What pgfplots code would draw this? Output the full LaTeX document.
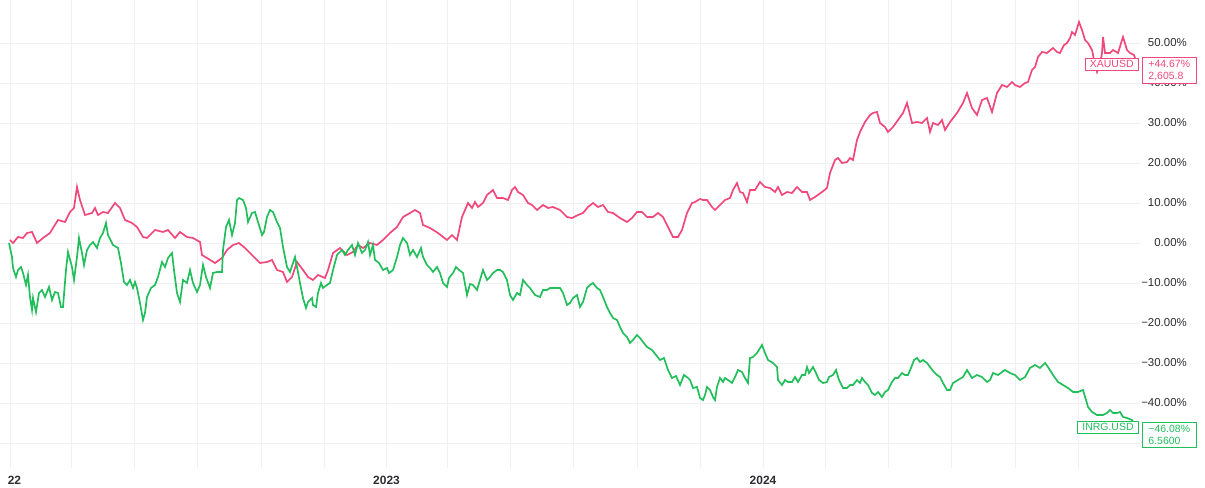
\documentclass[border=0pt]{standalone}
\usepackage{pgfplots}
\pgfplotsset{compat=1.18}
\usepackage{fontspec}
\setmainfont{Liberation Sans}
\definecolor{gold}{RGB}{240,72,122}
\definecolor{inrg}{RGB}{34,190,92}
\definecolor{gridc}{RGB}{240,240,242}
\definecolor{txt}{RGB}{45,45,50}
\begin{document}
\begin{tikzpicture}
\useasboundingbox (0,-20bp) rectangle (1205bp,468bp);
\begin{axis}[
  at={(0,0)}, anchor=south west,
  scale only axis, width=1140bp, height=468bp,
  xmin=0, xmax=1140, ymin=-56.25, ymax=60.75,
  axis line style={draw=none},
  major tick length=0pt,
  xtick={10,71,134,197,261,324,386.5,447,510,573,637,700,763,825,888,951,1015,1078},
  xticklabels={\hspace*{9bp}22,,,,,,2023,,,,,,2024,,,,,},
  xmajorgrids, ymajorgrids,
  grid style={gridc, line width=0.8bp},
  ytick={-50,-40,-30,-20,-10,0,10,20,30,40,50},
  yticklabels={−50.00\%,−40.00\%,−30.00\%,−20.00\%,−10.00\%,0.00\%,10.00\%,20.00\%,30.00\%,40.00\%,50.00\%},
  yticklabel pos=right,
  yticklabel style={anchor=east, inner sep=0pt, xshift=47bp, font=\fontsize{11.5}{13}\selectfont, text=txt},
  xticklabel style={anchor=north, inner sep=0pt, yshift=-8bp, font=\fontsize{12}{13}\selectfont\bfseries, text=txt},
]
\addplot[gold, line width=1.7bp] coordinates {
(10,0.75)(13,0)(18,1.5)(23,1.25)(27,2.5)(32,2.75)(37,0)(43,1.25)(50,2.5)(53,3.75)(58,5.75)(65,5.25)(70,7.75)(74,8.75)(77,14)(80,10.75)(85,7)(92,7.5)(95,8.75)(98,7)(103,7.75)(108,7.5)(115,10)(120,8.75)(125,5.75)(132,5)(137,4)(143,1.5)(147,1.25)(155,3.25)(163,2.75)(168,3.25)(175,1.25)(180,2.75)(187,1.5)(193,1.25)(200,0.25)(202,-3)(207,-3.75)(215,-5)(222,-3.75)(227,-1.75)(233,-0.5)(239,0)
(245,-1.25)(252,-3)(260,-5)(267,-4.75)(272,-4.25)(277,-6.75)(283,-7.25)(287,-9.75)(292,-8.5)(297,-4.75)(303,-6.75)(308,-8.5)(313,-9.25)(318,-8)(325,-8.75)(328,-6.75)(333,-2.5)(340,-1.25)(347,-3)(353,-2.25)(358,-0.5)(363,-1.25)(370,0)(377,-0.5)(383,0.75)(390,2.5)(397,4)(403,6.5)(410,7.5)(415,8.25)(420,7.5)(423,4.5)(430,3.75)(438,2.5)(447,0.75)(452,2)(457,0.75)(462,6.5)
(468,10)(472,8.75)(475,10.25)(478,9)(483,10)(487,12)(493,13.25)(497,11.25)(503,11.25)(508,10.75)(512,13.25)(515,14)(518,12.75)(523,12)(528,10)(532,9.5)(537,8.25)(543,9.5)(548,8.75)(553,9)(560,8.25)(567,6.5)(572,6.25)(578,7)(583,7.5)(588,9)(593,10)(598,9)(603,9.5)(608,7.75)(613,7.5)(620,6.25)(627,5.25)(632,6.25)(637,7.75)(642,7.75)(647,6.5)(653,6.5)(658,7.5)(663,6.5)(668,4)(673,1.5)(678,1.5)(682,3.25)(687,7.5)(692,10)(695,10.25)(700,11)
(703,10.75)(707,10.75)(712,9)(715,8.25)(720,9.5)(725,10.75)(730,11.25)(733,13.25)(737,15)(740,12.75)(743,12.5)(747,10.25)(750,13.25)(755,13.25)(760,15.25)(765,14)(770,13.75)(775,12.75)(778,14)(782,12)(787,12.75)(792,12.5)(797,14)(802,12.75)(807,12.75)(810,10.75)(815,11.5)(822,12.75)(827,13.75)(830,17.5)(835,20.75)(838,21.25)(842,20)(847,20.25)(850,21.25)(853,20.75)(857,25.75)(860,27.75)(865,30.25)(870,32)(873,32.5)(877,32.75)(880,30)(885,29)(888,27.75)(893,29)(898,30.75)(903,32.5)(907,35)(912,30)(917,30.25)(922,30)(927,31.25)(930,27.75)
(933,30)(938,29.5)(942,30.75)(945,28.25)(950,30.25)(957,32.5)(963,35)(967,37.5)(972,33.75)(977,32)(982,35.75)(987,36.25)(992,32.75)(997,37.5)(1002,39.5)(1007,39)(1012,40.25)(1015,39.5)(1020,39)(1025,40)(1028,40.25)(1032,43.25)(1035,44)(1038,46.5)(1042,47.75)(1047,47.5)(1053,48.75)(1057,47.75)(1060,47.5)(1064,49.5)(1067,50)(1070,51.25)(1072,52.75)(1075,52)(1079,55.25)(1082,53.25)(1085,50.75)(1088,50)(1092,48.25)(1094,45.75)(1097,42.75)(1100,44.5)(1102,47.5)(1103,51.5)(1105,47.5)(1110,47.5)(1113,48.25)(1118,47.5)(1122,50.75)(1123,51.5)(1127,48.25)(1130,47.5)(1134,47)(1137,44.67)
};
\addplot[inrg, line width=1.7bp] coordinates {
(9,0)(12,-3.5)(13,-6.25)(16,-8.5)(18,-6.75)(21,-6)(23,-7.5)(26,-10.5)(28,-8)(30,-13.5)(32,-16.75)(33,-13.75)(36,-17.25)(39,-12.5)(42,-11.75)(45,-13.5)(49,-11)(52,-14.25)(55,-12.25)(58,-12.5)(61,-16)(63,-16)(66,-6.75)(68,-2.25)(72,-6)(74,-9.25)(77,-3.5)(79,1.25)(82,-2.5)(84,-5.5)(87,-1.75)(90,-0.5)(93,0.25)(97,-1.25)(100,1.25)(103,2.5)(106,5)(108,2)(113,-0.5)(118,-1.25)(121,-5)(124,-9.75)(127,-10.5)(130,-9.25)(133,-11.25)(135,-9.75)(137,-11.25)(140,-15)(143,-19.25)(145,-17.5)(147,-13.5)(151,-11.25)(155,-10.5)(158,-8.5)(162,-4.75)(165,-6)(168,-3.75)(172,-2.5)(174,-6.75)(177,-12.5)(180,-14.75)(183,-9.25)(187,-10)(190,-6.75)(193,-10)(197,-12.25)(200,-10.5)(203,-5.5)(206,-8.5)(210,-11.25)(213,-7.5)(217,-7.25)(222,-7.25)(223,-1.75)(226,4)(229,5.75)(232,2)(235,5)(237,10.75)(239,11.25)
(243,10.75)(246,8.75)(248,5.25)(252,7.5)(255,7.75)(258,5.25)(262,2)(264,2.75)(267,6.5)(270,8.25)(273,7.75)(277,5.25)(280,3.75)(283,-1)(287,-6)(290,-7.25)(293,-5)(295,-3.5)(297,-6)(300,-10)(303,-13.75)(306,-16.25)(308,-14.75)(312,-13.75)(313,-15.5)(316,-16)(318,-12.5)(321,-10)(323,-11.25)(327,-10.5)(330,-10)(333,-6.75)(337,-3)(342,-1.75)(345,-3)(348,-1.75)(352,-0.5)(355,-3)(358,0)(362,-2.5)(365,-1.75)(368,0.25)(370,-3)(373,-0.5)(375,-4.25)(379,-5)(383,-6.75)(387,-6.25)(389,-7.5)(393,-6.75)(397,-3.5)(400,-0.5)(403,1.25)(407,0)(410,-3)(413,-1.75)(417,-3.5)(421,-1.25)(423,-3.5)(427,-5.5)(430,-6.25)(433,-7.25)(437,-6)(440,-7.5)(443,-10)(447,-11)(449,-8.75)(453,-7.5)(456,-6)(459,-6.75)(463,-7.5)
(467,-13)(470,-10.25)(473,-10.5)(477,-11.75)(480,-9.25)(483,-6.75)(487,-9.25)(490,-8.5)(493,-7.5)(497,-6.75)(500,-6.75)(503,-7.25)(507,-9.25)(510,-13)(513,-14.25)(517,-12.5)(520,-13)(523,-9.25)(527,-10.5)(530,-11.25)(535,-13)(540,-13.5)(543,-11.75)(547,-11.75)(550,-11.25)(555,-11.25)(560,-11.25)(563,-12.5)(567,-15.5)(570,-15)(573,-13.75)(577,-13)(580,-16)(583,-14.75)(587,-11.25)(590,-10.5)(593,-10)(597,-11.25)(600,-11.75)(603,-13.5)(607,-16)(610,-17.5)(613,-18.75)(617,-19.25)(620,-21)(623,-22.5)(627,-23.5)(630,-25)(633,-24.25)(637,-23)(640,-23.75)(643,-24.75)(647,-26)(652,-26.75)
(656,-28)(660,-29.25)(664,-28.75)(668,-31.75)(672,-33.75)(676,-33.25)(680,-35.5)(684,-33)(688,-33.75)(690,-34.25)(693,-36.25)(697,-36)(700,-38.75)(703,-39.25)(705,-38)(707,-36)(710,-36.75)(713,-38.5)(715,-39.25)(717,-36)(720,-33.75)(723,-34.75)(725,-33.75)(728,-34.25)(732,-35)(735,-33.5)(738,-31.75)(742,-32.25)(745,-33.75)(748,-35)(750,-28.75)(753,-28.5)(757,-27.5)(762,-25.5)(765,-27.5)(768,-29.25)(773,-30)(777,-31)(778,-34.25)(782,-35.5)(785,-34.25)(788,-34.75)(792,-34.75)(795,-33.5)(798,-34.75)(802,-33)(805,-33)(807,-31)(809,-32.5)(813,-31)(816,-32.5)(819,-34.25)(823,-35)(827,-34.75)(829,-33.5)(833,-33)(836,-31.75)(839,-34.25)(843,-36.25)(847,-36.25)(850,-35.5)(853,-35.5)(857,-34.25)(860,-35)(862,-33.75)(865,-34.75)(868,-35.5)(872,-37.5)(875,-38)(878,-37.25)(882,-38.5)(885,-37.25)(888,-36.75)(892,-34.75)(895,-33.75)(898,-33.75)(902,-32.5)(905,-33)(908,-33)(911,-31.25)(914,-29.25)(917,-28.75)(920,-29.75)(923,-29.25)(927,-30)(930,-31)
(933,-32)(937,-33)(940,-33.5)(943,-35)(947,-36.75)(950,-36.75)(953,-35)(958,-34.25)(963,-33.5)(967,-31.75)(972,-33.75)(977,-33)(982,-33.5)(987,-34.75)(990,-34.25)(993,-32.5)(998,-33)(1002,-32.25)(1005,-31.75)(1010,-32.5)(1015,-33)(1020,-34.25)(1025,-33.5)(1030,-31.25)(1035,-30.5)(1040,-31.25)(1045,-30)(1048,-31)(1053,-33)(1058,-34.75)(1063,-35.5)(1068,-36.25)(1073,-37.25)(1078,-37.25)(1083,-36.75)(1086,-39.25)(1088,-41)(1092,-42.25)(1097,-43)(1103,-43)(1107,-42.5)(1110,-41.75)(1113,-42.5)(1117,-42.5)(1120,-42.25)(1123,-43.5)(1127,-43.75)(1132,-44.25)(1136,-46.08)
};
\coordinate (pxau) at (axis cs:1139,44.67);
\coordinate (pinr) at (axis cs:1139,-46.08);
\end{axis}
\tikzset{lab/.style={fill=white, line width=0.9bp, font=\fontsize{10.5}{12}\selectfont, inner xsep=5bp, inner ysep=2.6bp},
         val/.style={fill=white, line width=0.9bp, font=\fontsize{10.5}{12}\selectfont, align=left, inner xsep=6bp, inner ysep=3bp, anchor=north west}}
\node[lab, draw=gold, text=gold, anchor=east] (xl) at (pxau) {XAUUSD};
\node[val, draw=gold, text=gold] at ([xshift=3bp,yshift=1bp]xl.north east) {+44.67\%\\2,605.8};
\node[lab, draw=inrg, text=inrg, anchor=east] (il) at (pinr) {INRG.USD};
\node[val, draw=inrg, text=inrg] at ([xshift=3bp,yshift=-1bp]il.north east) {−46.08\%\\6.5600};
\end{tikzpicture}
\end{document}
